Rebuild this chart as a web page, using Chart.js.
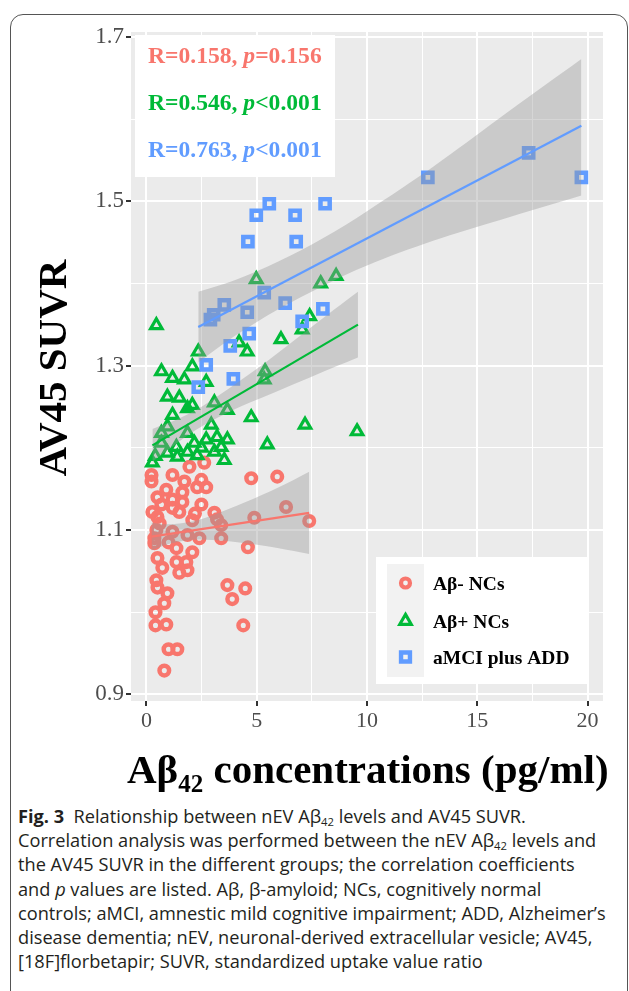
<!DOCTYPE html>
<html><head><meta charset="utf-8">
<script src="https://cdn.jsdelivr.net/npm/chart.js@4/dist/chart.umd.min.js"></script>
<style>
html,body{margin:0;padding:0;background:#fff;}
body{width:629px;height:991px;position:relative;overflow:hidden;}
#frame{position:absolute;left:10px;top:14px;width:618px;height:1100px;border:1px solid #555;border-radius:13px;box-sizing:border-box;}
#c{position:absolute;left:0;top:0;}
#cap{position:absolute;left:18px;top:804px;width:610px;font-family:'Open Sans',sans-serif;font-size:18.2px;line-height:24.2px;color:#231f20;}
#cap div{white-space:nowrap;}
#cap sub{font-size:0.62em;vertical-align:-0.3em;line-height:0;}
</style></head>
<body>
<div id="frame"></div>
<canvas id="c" width="629" height="800"></canvas>
<div id="cap">
<div><b>Fig. 3</b>&nbsp; Relationship between nEV Aβ<sub>42</sub> levels and AV45 SUVR.</div>
<div>Correlation analysis was performed between the nEV Aβ<sub>42</sub> levels and</div>
<div>the AV45 SUVR in the different groups; the correlation coefficients</div>
<div>and <i>p</i> values are listed. Aβ, β-amyloid; NCs, cognitively normal</div>
<div>controls; aMCI, amnestic mild cognitive impairment; ADD, Alzheimer’s</div>
<div>disease dementia; nEV, neuronal-derived extracellular vesicle; AV45,</div>
<div>[18F]florbetapir; SUVR, standardized uptake value ratio</div>
</div>
<script>
// ---------- data ----------
const groupNames = ['Aβ- NCs', 'Aβ+ NCs', 'aMCI plus ADD'];
const statR = ['0.158', '0.546', '0.763'];
const statP = ['=0.156', '<0.001', '<0.001'];

const redX = [4.75,5.93,6.33,4.89,7.38,4.6,3.67,4.48,3.89,4.39,1.0,1.4,0.81,0.41,0.41,0.9,0.81,0.95,0.5,0.45,0.5,0.72,1.36,1.81,1.49,1.86,1.36,2.08,2.4,0.36,0.45,0.36,1.18,1.86,3.39,3.39,3.08,2.49,2.08,1.49,0.27,0.5,0.68,1.18,0.5,0.9,1.18,1.63,1.63,1.72,2.3,2.71,2.49,0.23,0.23,1.18,1.95,2.62,3.2,0.6,1.0,2.2];
const redY = [1.163,1.165,1.128,1.115,1.111,1.079,1.033,1.029,1.016,0.984,0.955,0.955,0.929,1.0,0.984,0.985,1.011,1.023,1.03,1.039,1.066,1.054,1.061,1.061,1.048,1.051,1.078,1.073,1.09,1.09,1.1,1.084,1.098,1.094,1.106,1.09,1.121,1.131,1.112,1.122,1.122,1.116,1.131,1.127,1.14,1.149,1.137,1.134,1.146,1.159,1.152,1.152,1.161,1.159,1.167,1.167,1.177,1.182,1.113,1.108,1.085,1.12];

const greenX = [0.45,4.98,7.9,8.6,7.4,7.06,6.1,4.2,4.57,5.38,5.34,2.35,2.08,1.72,2.71,0.68,1.18,0.95,1.49,1.18,2.08,1.86,3.08,3.67,4.75,7.19,9.55,5.48,0.68,0.95,1.86,2.17,2.94,2.71,3.2,3.67,3.39,3.08,3.53,0.27,0.95,1.4,1.86,2.3,1.36,0.68,2.5,0.4];
const greenY = [1.349,1.405,1.40,1.409,1.36,1.344,1.332,1.328,1.317,1.293,1.283,1.317,1.299,1.283,1.28,1.293,1.285,1.262,1.261,1.24,1.252,1.248,1.255,1.246,1.237,1.228,1.22,1.204,1.218,1.226,1.218,1.206,1.228,1.21,1.213,1.21,1.201,1.195,1.185,1.182,1.194,1.189,1.195,1.191,1.201,1.206,1.2,1.19];

const blueX = [5.57,4.98,6.74,8.1,4.6,6.79,12.76,17.33,19.72,5.34,3.53,2.9,3.05,4.57,6.29,8.0,7.06,4.66,3.8,2.71,3.94,2.35];
const blueY = [1.497,1.483,1.483,1.497,1.451,1.451,1.529,1.559,1.529,1.389,1.374,1.356,1.362,1.365,1.376,1.369,1.354,1.339,1.324,1.301,1.284,1.274];

// fitted lines (endpoints) and confidence bands
const redFitX = [0.23, 7.38];   const redFitY = [1.092, 1.121];
const greenFitX = [0.27, 9.59]; const greenFitY = [1.203, 1.350];
const blueFitX = [2.35, 19.72]; const blueFitY = [1.347, 1.592];

const redBandX = [0.23, 1, 2, 3, 4.5, 6, 7.38];
const redBandHi = [1.109, 1.107, 1.110, 1.118, 1.134, 1.152, 1.171];
const redBandLo = [1.075, 1.083, 1.088, 1.088, 1.084, 1.078, 1.071];

const greenBandX = [0.27, 1.5, 2.5, 4, 5.5, 7, 8.5, 9.59];
const greenBandHi = [1.223, 1.236, 1.250, 1.277, 1.306, 1.337, 1.368, 1.390];
const greenBandLo = [1.183, 1.208, 1.226, 1.247, 1.264, 1.281, 1.298, 1.310];

const blueBandX = [2.35, 4, 6, 8, 10, 13, 16, 19.72];
const blueBandHi = [1.390, 1.404, 1.427, 1.455, 1.488, 1.542, 1.601, 1.673];
const blueBandLo = [1.304, 1.336, 1.369, 1.397, 1.422, 1.452, 1.477, 1.507];

const xTickValues = [0, 2.5, 5, 7.5, 10, 12.5, 15, 17.5, 20];
const xTickLabels = ['0', '', '5', '', '10', '', '15', '', '20'];
const yTickValues = [0.9, 1.0, 1.1, 1.2, 1.3, 1.4, 1.5, 1.6, 1.7];
const yTickLabels = ['0.9', '', '1.1', '', '1.3', '', '1.5', '', '1.7'];

// ---------- build ----------
const COLORS = ['#F8766D', '#00BA38', '#619CFF'];
const zip = (xs, ys) => xs.map((x, i) => ({x, y: ys[i]}));
const BAND = 'rgba(153,153,153,0.4)';

function pts(xs, ys, color, style, radius, bw, order) {
  return {data: zip(xs, ys), showLine: false, pointStyle: style, pointRadius: radius,
    pointBorderWidth: bw, pointBorderColor: color, pointBackgroundColor: 'rgba(0,0,0,0)', order};
}
function bandPair(xs, hi, lo) {
  return [
    {data: zip(xs, hi), borderWidth: 0, pointRadius: 0, borderColor: 'rgba(0,0,0,0)', fill: false, order: 2, tension: 0.35},
    {data: zip(xs, lo), borderWidth: 0, pointRadius: 0, borderColor: 'rgba(0,0,0,0)', fill: '-1', backgroundColor: BAND, order: 2, tension: 0.35}
  ];
}
function fit(xs, ys, color) {
  return {data: zip(xs, ys), borderColor: color, borderWidth: 2.2, pointRadius: 0, fill: false, order: 1};
}

const datasets = [
  pts(redX, redY, COLORS[0], 'circle', 4.8, 4.5, 5),
  pts(greenX, greenY, COLORS[1], 'triangle', 6.6, 3.2, 4),
  pts(blueX, blueY, COLORS[2], 'rect', 6.5, 4.5, 3),
  ...bandPair(redBandX, redBandHi, redBandLo),
  ...bandPair(greenBandX, greenBandHi, greenBandLo),
  ...bandPair(blueBandX, blueBandHi, blueBandLo),
  fit(redFitX, redFitY, COLORS[0]),
  fit(greenFitX, greenFitY, COLORS[1]),
  fit(blueFitX, blueFitY, COLORS[2])
];

const SERIF = '"Liberation Serif", "Times New Roman", serif';

function drawMarker(ctx, style, x, y, r, color, bw) {
  ctx.save();
  ctx.strokeStyle = color; ctx.lineWidth = bw; ctx.beginPath();
  if (style === 'circle') { ctx.arc(x, y, r, 0, Math.PI * 2); }
  else if (style === 'triangle') {
    let a = 0;
    for (let k = 0; k < 3; k++) { const px = x + Math.sin(a) * r, py = y - Math.cos(a) * r; k ? ctx.lineTo(px, py) : ctx.moveTo(px, py); a += 2 * Math.PI / 3; }
    ctx.closePath();
  } else { const s = r * Math.SQRT1_2; ctx.rect(x - s, y - s, 2 * s, 2 * s); }
  ctx.stroke(); ctx.restore();
}

const deco = {
  id: 'deco',
  beforeDraw(chart) {
    const {ctx, chartArea: a} = chart;
    ctx.save(); ctx.fillStyle = '#EBEBEB';
    ctx.fillRect(a.left, a.top, a.right - a.left, a.bottom - a.top); ctx.restore();
  },
  afterDraw(chart) {
    const {ctx, chartArea: a} = chart;
    ctx.save();
    // stats box
    ctx.fillStyle = '#fff';
    ctx.fillRect(a.left + 4, a.top + 3, 200, 142);
    const bases = [63, 110, 157];
    for (let i = 0; i < 3; i++) {
      let x = a.left + 17;
      const segs = [['R=' + statR[i] + ', ', 'bold'], ['p', 'italic bold'], [statP[i], 'bold']];
      ctx.fillStyle = COLORS[i]; ctx.textBaseline = 'alphabetic'; ctx.textAlign = 'left';
      for (const [t, w] of segs) { ctx.font = w + ' 23.6px ' + SERIF; ctx.fillText(t, x, bases[i]); x += ctx.measureText(t).width; }
    }
    // legend
    ctx.fillStyle = '#fff'; ctx.fillRect(376, 557, 212, 127);
    ctx.fillStyle = '#F2F2F2'; ctx.fillRect(387, 564, 37, 113);
    const styles = ['circle', 'triangle', 'rect'];
    const ly = [583, 621, 657];
    const lr = [4.5, 6.6, 6.3], lbw = [4.2, 3.2, 4.4];
    for (let i = 0; i < 3; i++) {
      drawMarker(ctx, styles[i], 405.5, ly[i], lr[i], COLORS[i], lbw[i]);
      ctx.fillStyle = '#000'; ctx.font = 'bold 19.5px ' + SERIF; ctx.textBaseline = 'alphabetic';
      ctx.fillText(groupNames[i], 433, ly[i] + 7);
    }
    // y title
    ctx.save();
    ctx.translate(66, 368); ctx.rotate(-Math.PI / 2);
    ctx.font = 'bold 41px ' + SERIF; ctx.textAlign = 'center'; ctx.fillStyle = '#000';
    ctx.fillText('AV45 SUVR', 0, 0);
    ctx.restore();
    // x title
    let x = 127; const by = 783;
    ctx.fillStyle = '#000'; ctx.textAlign = 'left';
    ctx.font = 'bold 41px ' + SERIF; ctx.fillText('Aβ', x, by); x += ctx.measureText('Aβ').width;
    ctx.font = 'bold 25px ' + SERIF; ctx.fillText('42', x, by + 9); x += ctx.measureText('42').width;
    ctx.font = 'bold 41px ' + SERIF; ctx.fillText(' concentrations (pg/ml)', x, by);
    ctx.restore();
  }
};

new Chart(document.getElementById('c'), {
  type: 'line',
  data: {datasets},
  plugins: [deco],
  options: {
    responsive: false, animation: false,
    layout: {padding: {top: 32, right: 26, left: 0, bottom: 0}},
    plugins: {legend: {display: false}, tooltip: {enabled: false}},
    scales: {
      x: {
        type: 'linear', min: -0.7, max: 20.7,
        afterBuildTicks: s => { s.ticks = xTickValues.map(v => ({value: v})); },
        afterFit: s => { s.height = 99; },
        border: {display: false},
        grid: {color: '#FFFFFF', lineWidth: c => xTickLabels[c.index] ? 2 : 1,
               tickColor: c => xTickLabels[c.index] ? '#333' : 'rgba(0,0,0,0)', tickLength: 5, drawTicks: true},
        ticks: {autoSkip: false, maxRotation: 0, padding: 2, color: '#4D4D4D',
                font: {family: SERIF, size: 22}, callback: (v, i) => xTickLabels[i]}
      },
      y: {
        type: 'linear', min: 0.892, max: 1.706,
        afterBuildTicks: s => { s.ticks = yTickValues.map(v => ({value: v})); },
        afterFit: s => { s.width = 131; },
        border: {display: false},
        grid: {color: '#FFFFFF', lineWidth: c => yTickLabels[c.index] ? 2 : 1,
               tickColor: c => yTickLabels[c.index] ? '#333' : 'rgba(0,0,0,0)', tickLength: 5, drawTicks: true},
        ticks: {autoSkip: false, padding: 2, color: '#4D4D4D',
                font: {family: SERIF, size: 23}, callback: (v, i) => yTickLabels[i]}
      }
    }
  }
});
</script>
</body></html>
